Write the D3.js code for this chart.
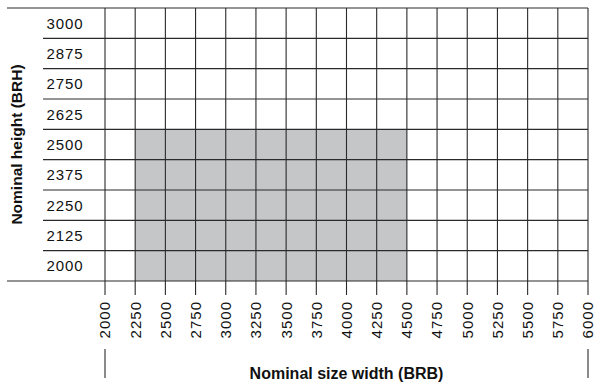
<!DOCTYPE html>
<html><head><meta charset="utf-8">
<script src="https://cdn.jsdelivr.net/npm/d3@7"></script>
<style>
html,body{margin:0;padding:0;background:#fff;}
svg{display:block;font-family:"Liberation Sans",Arial,Helvetica,sans-serif;}
</style></head>
<body>
<svg id="chart" width="595" height="383"></svg>
<script>
const widthTicks = [2000,2250,2500,2750,3000,3250,3500,3750,4000,4250,4500,4750,5000,5250,5500,5750,6000];
const heightRows = [3000,2875,2750,2625,2500,2375,2250,2125,2000];
const shadedWidth = [2250,4500];
const shadedHeights = [2500,2375,2250,2125,2000];
const xTitle = "Nominal size width (BRB)";
const yTitle = "Nominal height (BRH)";

const svg = d3.select("#chart");
const x = d3.scaleLinear().domain([2000,6000]).range([105,588]);
const y = d3.scaleBand().domain(heightRows).range([8,281]);
const gridColor = "#2a2a2a";

// shaded area
const ys = shadedHeights.map(h => y(h));
svg.append("rect")
  .attr("x", x(shadedWidth[0]))
  .attr("y", d3.min(ys))
  .attr("width", x(shadedWidth[1]) - x(shadedWidth[0]))
  .attr("height", d3.max(ys) + y.bandwidth() - d3.min(ys))
  .attr("fill", "#c5c6c8");

// horizontal lines
const bounds = heightRows.map(h => y(h)).concat([y(heightRows[heightRows.length-1]) + y.bandwidth()]);
svg.selectAll("line.h").data(bounds).join("line")
  .attr("class","h")
  .attr("x1",(d,i)=> (i===0 || i===bounds.length-1) ? 7 : 43)
  .attr("x2", x(6000))
  .attr("y1", d=>d).attr("y2", d=>d)
  .attr("stroke", gridColor).attr("stroke-width",1.1);

// vertical lines
svg.selectAll("line.v").data(widthTicks).join("line")
  .attr("class","v")
  .attr("x1", d=>x(d)).attr("x2", d=>x(d))
  .attr("y1", 8).attr("y2", 295)
  .attr("stroke", gridColor).attr("stroke-width",1.1);

// y labels
svg.selectAll("text.yl").data(heightRows).join("text")
  .attr("class","yl")
  .attr("x", 46.5)
  .attr("y", d=> y(d) + y.bandwidth()/2)
  .attr("dy","0.36em")
  .attr("font-size", 15)
  .attr("letter-spacing", 0.9)
  .attr("fill","#111")
  .text(d=>d);

// x labels
svg.selectAll("text.xl").data(widthTicks).join("text")
  .attr("class","xl")
  .attr("transform", d=>`translate(${x(d)},301) rotate(-90)`)
  .attr("text-anchor","end")
  .attr("dy","0.36em")
  .attr("font-size", 15)
  .attr("letter-spacing", 1)
  .attr("fill","#111")
  .text(d=>d);

// bracket lines under x axis
[2000,6000].forEach(v=>{
  svg.append("line")
    .attr("x1",x(v)).attr("x2",x(v))
    .attr("y1",349).attr("y2",378)
    .attr("stroke",gridColor).attr("stroke-width",1.1);
});

// titles
svg.append("text")
  .attr("x",(x(2000)+x(6000))/2)
  .attr("y",379)
  .attr("text-anchor","middle")
  .attr("font-size",16)
  .attr("font-weight","bold")
  .attr("fill","#111")
  .text(xTitle);

svg.append("text")
  .attr("transform",`translate(16,${(8+281)/2}) rotate(-90)`)
  .attr("text-anchor","middle")
  .attr("dy","0.36em")
  .attr("font-size",15.5)
  .attr("font-weight","bold")
  .attr("fill","#111")
  .text(yTitle);
</script>
</body></html>
